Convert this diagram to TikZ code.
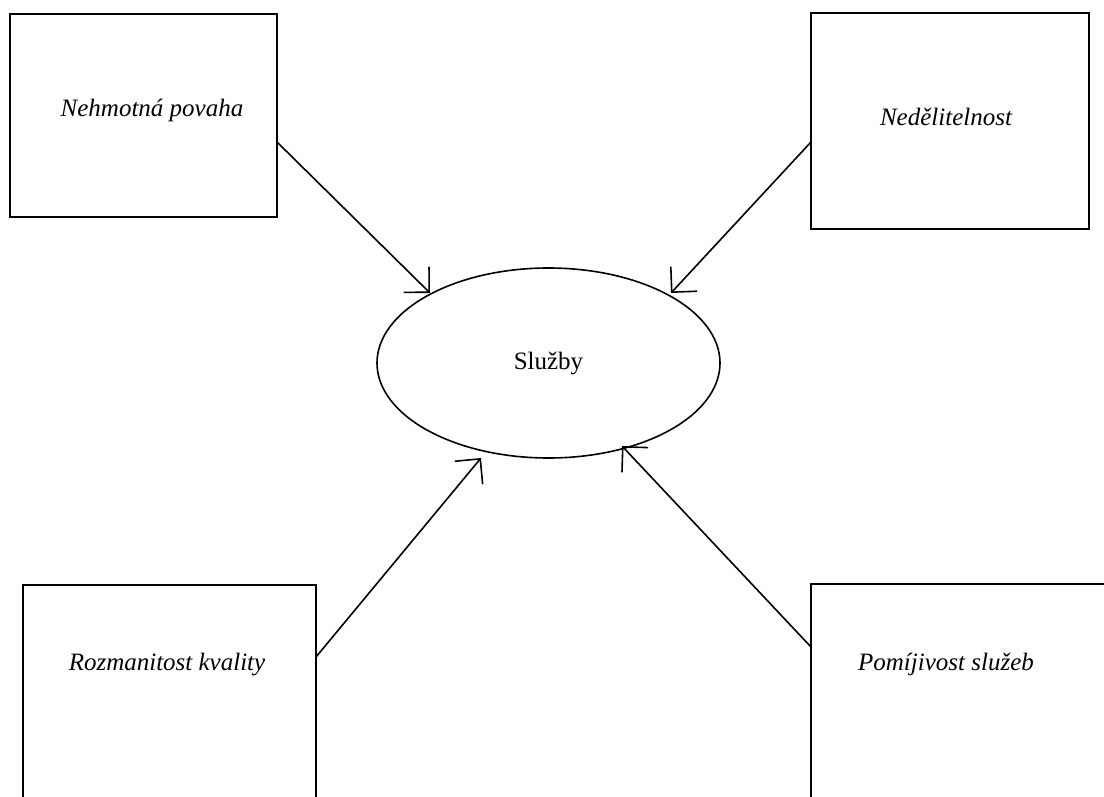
\documentclass[tikz,border=0pt]{standalone}
\usepackage{fontspec}
\setmainfont{Liberation Serif}
\usetikzlibrary{arrows.meta,shapes.geometric}
\begin{document}
\begin{tikzpicture}[x=1pt,y=-1pt,
  box/.style={draw=black,line width=2pt,rectangle,inner sep=0pt},
  lbl/.style={inner sep=0pt,font=\fontsize{25}{30}\selectfont\itshape},
  conn/.style={draw=black,line width=1.6pt,-{Straight Barb[length=18pt,width=36pt,line width=1.6pt]}}]
\useasboundingbox (0,0) rectangle (1104,797);
\clip (0,0) rectangle (1104,797);
\fill[white] (0,0) rectangle (1104,797);
% boxes
\node[box,minimum width=267pt,minimum height=203pt] (b1) at (143.5,115.5) {};
\node[box,minimum width=278pt,minimum height=216pt] (b2) at (950,121) {};
\node[box,minimum width=293pt,minimum height=260pt] (b3) at (169.5,715) {};
\node[box,minimum width=320pt,minimum height=260pt] (b4) at (971,714) {};
% labels
\node[lbl] (t1) at (152,110) {Nehmotná povaha};
\node[lbl] (t2) at (946,117) {Nedělitelnost};
\node[lbl] (t3) at (167,665) {Rozmanitost kvality};
\node[lbl] (t4) at (946,664) {Pomíjivost služeb};
% ellipse
\node[draw=black,line width=1.6pt,ellipse,minimum width=343pt,minimum height=190pt,inner sep=0pt,
  font=\fontsize{25}{30}\selectfont] (s) at (548.5,363) {Služby};
% connector end points
\coordinate (s1) at (277,142);
\coordinate (e1) at (430,293);
\coordinate (s2) at (811,142);
\coordinate (e2) at (671,293);
\coordinate (s3) at (316,657);
\coordinate (e3) at (481,458);
\coordinate (s4) at (811,647);
\coordinate (e4) at (622,446);
\draw[conn] (s1) -- (e1);
\draw[conn] (s2) -- (e2);
\draw[conn] (s3) -- (e3);
\draw[conn] (s4) -- (e4);
\end{tikzpicture}
\end{document}
